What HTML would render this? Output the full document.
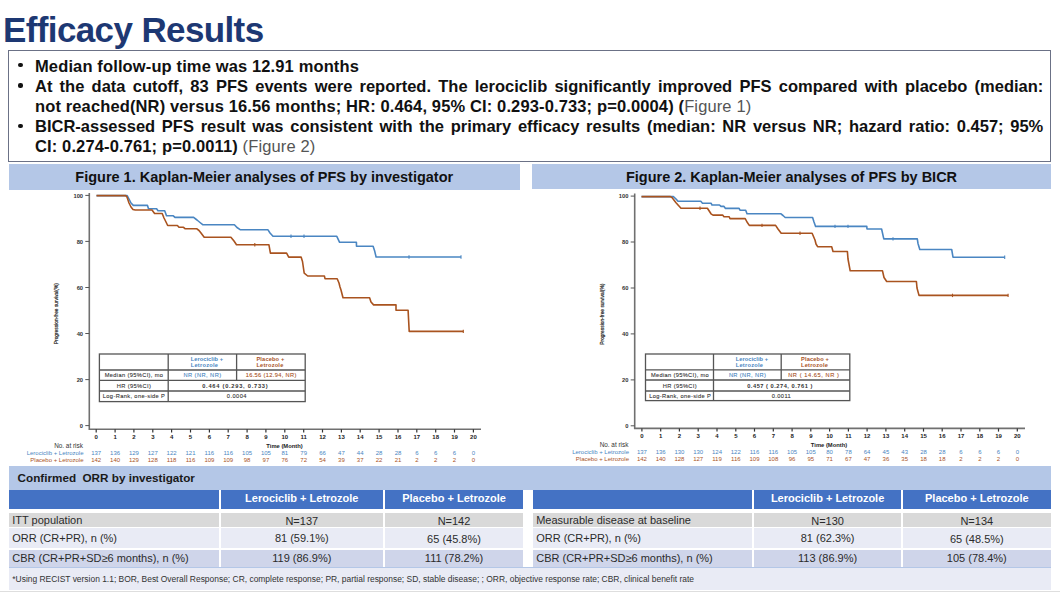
<!DOCTYPE html>
<html><head><meta charset="utf-8">
<style>
*{margin:0;padding:0;box-sizing:border-box}
html,body{width:1060px;height:592px;overflow:hidden;background:#fff;font-family:"Liberation Sans",sans-serif}
.a{position:absolute;white-space:nowrap}
#title{left:3px;top:10px;font-size:35px;font-weight:bold;color:#1d3873;line-height:40px;letter-spacing:-0.62px}
#box{left:7.9px;top:49.8px;width:1043.6px;height:111.9px;border:1.4px solid #6b7186}
.bl{font-size:16.5px;font-weight:bold;color:#111;line-height:20px;letter-spacing:0.13px}
.bul{width:4.2px;height:4.2px;border-radius:50%;background:#111}
.fig{color:#555;font-weight:normal}
.jl{width:1008.3px;text-align:justify;text-align-last:justify;white-space:normal;letter-spacing:0}
.fbar{background:#b4c7e7;height:26px;font-size:14.5px;font-weight:bold;color:#111;text-align:center;line-height:26px}
#bot{left:9px;top:466px;width:1042px;height:124px;background:#b4c7e7}
.cell{position:absolute;font-size:11.3px;color:#222;line-height:16px}
.hd{background:#4472c4;color:#fff;font-weight:bold;text-align:center;font-size:11.5px}
.g{background:#d9d9d9}
.l1{background:#e9ebf5}
.l2{background:#cfd5ea}
</style></head><body>
<div class="a" id="title">Efficacy Results</div>
<div class="a" id="box"></div>

<div class="a bul" style="left:18.4px;top:63px"></div>
<div class="a bl" style="left:35px;top:56px">Median follow-up time was 12.91 months</div>
<div class="a bul" style="left:18.4px;top:83.4px"></div>
<div class="a bl jl" style="left:35px;top:76px">At the data cutoff, 83 PFS events were reported. The lerociclib significantly improved PFS compared with placebo (median:</div>
<div class="a bl" style="left:35px;top:96px">not reached(NR) versus 16.56 months; HR: 0.464, 95% CI: 0.293-0.733; p=0.0004) (<span class="fig">Figure 1)</span></div>
<div class="a bul" style="left:18.4px;top:123.7px"></div>
<div class="a bl jl" style="left:35px;top:116px">BICR-assessed PFS result was consistent with the primary efficacy results (median: NR versus NR; hazard ratio: 0.457; 95%</div>
<div class="a bl" style="left:35px;top:136px">CI: 0.274-0.761; p=0.0011) <span class="fig">(Figure 2)</span></div>

<div class="a fbar" style="left:8.5px;top:164.3px;width:511.5px;height:25.9px;line-height:27.2px">Figure 1. Kaplan-Meier analyses of PFS by investigator</div>
<div class="a fbar" style="left:532px;top:163.7px;width:519px;height:25.1px;line-height:27.6px">Figure 2. Kaplan-Meier analyses of PFS by BICR</div>

<div class="a" style="left:9px;top:466.3px;width:1042.0px;height:123.4px;background:#b4c7e7"></div>
<div class="a" style="left:9px;top:489.7px;width:1042.0px;height:77.6px;background:#ffffff"></div>
<div class="a" style="left:9px;top:567.8px;width:1042.0px;height:21.9px;background:#e9ebf5"></div>
<div class="a" style="top:472.00px;font-size:11.7px;line-height:11.7px;color:#1a1a1a;font-weight:bold;left:17.6px;">Confirmed&nbsp; ORR by investigator</div>
<div class="a" style="left:9.4px;top:489.7px;width:209.6px;height:19.0px;background:#4472c4"></div>
<div class="a" style="left:220.8px;top:489.7px;width:162.0px;height:19.0px;background:#4472c4"></div>
<div class="a" style="left:384.7px;top:489.7px;width:138.5px;height:19.0px;background:#4472c4"></div>
<div class="a" style="left:9.4px;top:512.7px;width:209.6px;height:14.7px;background:#d9d9d9"></div>
<div class="a" style="left:220.8px;top:512.7px;width:162.0px;height:14.7px;background:#d9d9d9"></div>
<div class="a" style="left:384.7px;top:512.7px;width:138.5px;height:14.7px;background:#d9d9d9"></div>
<div class="a" style="left:9.4px;top:528.4px;width:209.6px;height:20.0px;background:#e9ebf5"></div>
<div class="a" style="left:220.8px;top:528.4px;width:162.0px;height:20.0px;background:#e9ebf5"></div>
<div class="a" style="left:384.7px;top:528.4px;width:138.5px;height:20.0px;background:#e9ebf5"></div>
<div class="a" style="left:9.4px;top:549.7px;width:209.6px;height:17.1px;background:#cfd5ea"></div>
<div class="a" style="left:220.8px;top:549.7px;width:162.0px;height:17.1px;background:#cfd5ea"></div>
<div class="a" style="left:384.7px;top:549.7px;width:138.5px;height:17.1px;background:#cfd5ea"></div>
<div class="a" style="left:533.4px;top:489.7px;width:219.0px;height:19.0px;background:#4472c4"></div>
<div class="a" style="left:754px;top:489.7px;width:147.2px;height:19.0px;background:#4472c4"></div>
<div class="a" style="left:902.8px;top:489.7px;width:148.0px;height:19.0px;background:#4472c4"></div>
<div class="a" style="left:533.4px;top:512.7px;width:219.0px;height:14.7px;background:#d9d9d9"></div>
<div class="a" style="left:754px;top:512.7px;width:147.2px;height:14.7px;background:#d9d9d9"></div>
<div class="a" style="left:902.8px;top:512.7px;width:148.0px;height:14.7px;background:#d9d9d9"></div>
<div class="a" style="left:533.4px;top:528.4px;width:219.0px;height:20.0px;background:#e9ebf5"></div>
<div class="a" style="left:754px;top:528.4px;width:147.2px;height:20.0px;background:#e9ebf5"></div>
<div class="a" style="left:902.8px;top:528.4px;width:148.0px;height:20.0px;background:#e9ebf5"></div>
<div class="a" style="left:533.4px;top:549.7px;width:219.0px;height:17.1px;background:#cfd5ea"></div>
<div class="a" style="left:754px;top:549.7px;width:147.2px;height:17.1px;background:#cfd5ea"></div>
<div class="a" style="left:902.8px;top:549.7px;width:148.0px;height:17.1px;background:#cfd5ea"></div>
<div class="a" style="top:493.19px;font-size:11px;line-height:11px;color:#fff;font-weight:bold;left:201.8px;width:200px;text-align:center;">Lerociclib + Letrozole</div>
<div class="a" style="top:493.19px;font-size:11px;line-height:11px;color:#fff;font-weight:bold;left:354.0px;width:200px;text-align:center;">Placebo + Letrozole</div>
<div class="a" style="top:515.29px;font-size:11px;line-height:11px;color:#2b2b2b;left:12.2px;">ITT population</div>
<div class="a" style="top:533.39px;font-size:11px;line-height:11px;color:#2b2b2b;left:12.2px;">ORR (CR+PR), n (%)</div>
<div class="a" style="top:553.19px;font-size:11px;line-height:11px;color:#2b2b2b;left:12.2px;">CBR (CR+PR+SD≥6 months), n (%)</div>
<div class="a" style="top:515.69px;font-size:11px;line-height:11px;color:#2b2b2b;left:201.8px;width:200px;text-align:center;">N=137</div>
<div class="a" style="top:515.69px;font-size:11px;line-height:11px;color:#2b2b2b;left:354.0px;width:200px;text-align:center;">N=142</div>
<div class="a" style="top:533.29px;font-size:11px;line-height:11px;color:#2b2b2b;left:201.8px;width:200px;text-align:center;">81 (59.1%)</div>
<div class="a" style="top:533.99px;font-size:11px;line-height:11px;color:#2b2b2b;left:354.0px;width:200px;text-align:center;">65 (45.8%)</div>
<div class="a" style="top:553.19px;font-size:11px;line-height:11px;color:#2b2b2b;left:201.8px;width:200px;text-align:center;">119 (86.9%)</div>
<div class="a" style="top:553.19px;font-size:11px;line-height:11px;color:#2b2b2b;left:354.0px;width:200px;text-align:center;">111 (78.2%)</div>
<div class="a" style="top:493.19px;font-size:11px;line-height:11px;color:#fff;font-weight:bold;left:727.6px;width:200px;text-align:center;">Lerociclib + Letrozole</div>
<div class="a" style="top:493.19px;font-size:11px;line-height:11px;color:#fff;font-weight:bold;left:876.8px;width:200px;text-align:center;">Placebo + Letrozole</div>
<div class="a" style="top:515.29px;font-size:11px;line-height:11px;color:#2b2b2b;left:536.2px;">Measurable disease at baseline</div>
<div class="a" style="top:533.39px;font-size:11px;line-height:11px;color:#2b2b2b;left:536.2px;">ORR (CR+PR), n (%)</div>
<div class="a" style="top:553.19px;font-size:11px;line-height:11px;color:#2b2b2b;left:536.2px;">CBR (CR+PR+SD≥6 months), n (%)</div>
<div class="a" style="top:515.69px;font-size:11px;line-height:11px;color:#2b2b2b;left:727.6px;width:200px;text-align:center;">N=130</div>
<div class="a" style="top:515.69px;font-size:11px;line-height:11px;color:#2b2b2b;left:876.8px;width:200px;text-align:center;">N=134</div>
<div class="a" style="top:533.29px;font-size:11px;line-height:11px;color:#2b2b2b;left:727.6px;width:200px;text-align:center;">81 (62.3%)</div>
<div class="a" style="top:533.99px;font-size:11px;line-height:11px;color:#2b2b2b;left:876.8px;width:200px;text-align:center;">65 (48.5%)</div>
<div class="a" style="top:553.19px;font-size:11px;line-height:11px;color:#2b2b2b;left:727.6px;width:200px;text-align:center;">113 (86.9%)</div>
<div class="a" style="top:553.19px;font-size:11px;line-height:11px;color:#2b2b2b;left:876.8px;width:200px;text-align:center;">105 (78.4%)</div>
<div class="a" style="top:574.85px;font-size:8.45px;line-height:8.45px;color:#333;left:12.3px;">*Using RECIST version 1.1; BOR, Best Overall Response; CR, complete response; PR, partial response; SD, stable disease; ; ORR, objective response rate; CBR, clinical benefit rate</div>

<div class="a" style="left:0;top:590.8px;width:1060px;height:1.2px;background:#dedede"></div>
<!-- CHARTS -->
<svg class="a" style="left:0;top:0" width="1060" height="592" viewBox="0 0 1060 592" id="charts">
<path d="M96.5,195.6 L127.2,195.6 L129.0,199.0 L131.0,203.0 L133.3,205.4 L147.5,205.4 L148.5,208.7 L156.6,208.7 L158.0,210.8 L164.7,210.8 L166.5,215.8 L173.3,215.8 L175.0,217.4 L193.6,217.4 L197.0,220.0 L200.0,222.5 L202.7,224.7 L234.4,224.7 L237.0,227.5 L240.5,229.8 L268.0,229.8 L270.0,233.0 L273.0,236.3 L336.8,236.3 L339.6,242.3 L356.4,242.3 L356.5,246.3 L373.1,246.3 L374.5,250.4 L376.1,257.0 L461.0,257.0" fill="none" stroke="#4a86c2" stroke-width="1.6" stroke-linejoin="round"/>
<path d="M96.5,195.6 L125.7,195.6 L127.0,197.0 L129.0,203.0 L131.0,207.0 L133.0,209.5 L135.3,210.0 L152.0,210.0 L154.6,213.5 L162.2,213.5 L164.0,218.0 L166.0,222.0 L167.7,225.5 L177.4,225.5 L179.0,227.3 L183.5,227.3 L185.0,228.7 L196.6,228.7 L199.0,230.5 L201.0,233.0 L204.2,237.2 L230.9,237.2 L234.0,241.0 L236.5,244.7 L268.9,244.7 L270.4,253.1 L286.6,253.1 L288.7,257.1 L301.1,257.1 L302.5,261.5 L304.2,273.2 L307.7,276.0 L324.4,276.0 L325.0,278.7 L337.2,278.7 L339.0,283.0 L340.0,287.0 L341.0,290.0 L343.0,297.8 L369.6,297.8 L371.0,302.0 L373.6,304.9 L396.0,304.9 L396.0,310.3 L408.1,310.3 L409.2,331.4 L463.3,331.4" fill="none" stroke="#a9531f" stroke-width="1.6" stroke-linejoin="round"/>
<path d="M291.0,234.6V238.0" stroke="#4a86c2" stroke-width="1.1"/>
<path d="M304.0,234.6V238.0" stroke="#4a86c2" stroke-width="1.1"/>
<path d="M409.0,255.3V258.7" stroke="#4a86c2" stroke-width="1.1"/>
<path d="M461.0,255.3V258.7" stroke="#4a86c2" stroke-width="1.1"/>
<path d="M254.8,243.0V246.4" stroke="#a9531f" stroke-width="1.1"/>
<path d="M463.3,329.7V333.1" stroke="#a9531f" stroke-width="1.1"/>
<path d="M89.3,192.9V429.3H481" fill="none" stroke="#707070" stroke-width="1.6"/>
<path d="M85.3,195.4H89.3" stroke="#555" stroke-width="1"/>
<text x="83.1" y="197.5" font-size="5.8" fill="#333" text-anchor="end" font-weight="bold" font-family="Liberation Sans" >100</text>
<path d="M85.3,241.4H89.3" stroke="#555" stroke-width="1"/>
<text x="83.1" y="243.5" font-size="5.8" fill="#333" text-anchor="end" font-weight="bold" font-family="Liberation Sans" >80</text>
<path d="M85.3,287.5H89.3" stroke="#555" stroke-width="1"/>
<text x="83.1" y="289.6" font-size="5.8" fill="#333" text-anchor="end" font-weight="bold" font-family="Liberation Sans" >60</text>
<path d="M85.3,333.5H89.3" stroke="#555" stroke-width="1"/>
<text x="83.1" y="335.6" font-size="5.8" fill="#333" text-anchor="end" font-weight="bold" font-family="Liberation Sans" >40</text>
<path d="M85.3,379.6H89.3" stroke="#555" stroke-width="1"/>
<text x="83.1" y="381.7" font-size="5.8" fill="#333" text-anchor="end" font-weight="bold" font-family="Liberation Sans" >20</text>
<path d="M85.3,425.6H89.3" stroke="#555" stroke-width="1"/>
<text x="83.1" y="427.7" font-size="5.8" fill="#333" text-anchor="end" font-weight="bold" font-family="Liberation Sans" >0</text>
<path d="M96.2,429.3V432.5" stroke="#333" stroke-width="1.2"/>
<text x="96.2" y="439.0" font-size="6" fill="#222" text-anchor="middle" font-weight="bold" font-family="Liberation Sans" >0</text>
<path d="M115.1,429.3V432.5" stroke="#333" stroke-width="1.2"/>
<text x="115.1" y="439.0" font-size="6" fill="#222" text-anchor="middle" font-weight="bold" font-family="Liberation Sans" >1</text>
<path d="M133.9,429.3V432.5" stroke="#333" stroke-width="1.2"/>
<text x="133.9" y="439.0" font-size="6" fill="#222" text-anchor="middle" font-weight="bold" font-family="Liberation Sans" >2</text>
<path d="M152.8,429.3V432.5" stroke="#333" stroke-width="1.2"/>
<text x="152.8" y="439.0" font-size="6" fill="#222" text-anchor="middle" font-weight="bold" font-family="Liberation Sans" >3</text>
<path d="M171.6,429.3V432.5" stroke="#333" stroke-width="1.2"/>
<text x="171.6" y="439.0" font-size="6" fill="#222" text-anchor="middle" font-weight="bold" font-family="Liberation Sans" >4</text>
<path d="M190.5,429.3V432.5" stroke="#333" stroke-width="1.2"/>
<text x="190.5" y="439.0" font-size="6" fill="#222" text-anchor="middle" font-weight="bold" font-family="Liberation Sans" >5</text>
<path d="M209.4,429.3V432.5" stroke="#333" stroke-width="1.2"/>
<text x="209.4" y="439.0" font-size="6" fill="#222" text-anchor="middle" font-weight="bold" font-family="Liberation Sans" >6</text>
<path d="M228.2,429.3V432.5" stroke="#333" stroke-width="1.2"/>
<text x="228.2" y="439.0" font-size="6" fill="#222" text-anchor="middle" font-weight="bold" font-family="Liberation Sans" >7</text>
<path d="M247.1,429.3V432.5" stroke="#333" stroke-width="1.2"/>
<text x="247.1" y="439.0" font-size="6" fill="#222" text-anchor="middle" font-weight="bold" font-family="Liberation Sans" >8</text>
<path d="M265.9,429.3V432.5" stroke="#333" stroke-width="1.2"/>
<text x="265.9" y="439.0" font-size="6" fill="#222" text-anchor="middle" font-weight="bold" font-family="Liberation Sans" >9</text>
<path d="M284.8,429.3V432.5" stroke="#333" stroke-width="1.2"/>
<text x="284.8" y="439.0" font-size="6" fill="#222" text-anchor="middle" font-weight="bold" font-family="Liberation Sans" >10</text>
<path d="M303.7,429.3V432.5" stroke="#333" stroke-width="1.2"/>
<text x="303.7" y="439.0" font-size="6" fill="#222" text-anchor="middle" font-weight="bold" font-family="Liberation Sans" >11</text>
<path d="M322.5,429.3V432.5" stroke="#333" stroke-width="1.2"/>
<text x="322.5" y="439.0" font-size="6" fill="#222" text-anchor="middle" font-weight="bold" font-family="Liberation Sans" >12</text>
<path d="M341.4,429.3V432.5" stroke="#333" stroke-width="1.2"/>
<text x="341.4" y="439.0" font-size="6" fill="#222" text-anchor="middle" font-weight="bold" font-family="Liberation Sans" >13</text>
<path d="M360.2,429.3V432.5" stroke="#333" stroke-width="1.2"/>
<text x="360.2" y="439.0" font-size="6" fill="#222" text-anchor="middle" font-weight="bold" font-family="Liberation Sans" >14</text>
<path d="M379.1,429.3V432.5" stroke="#333" stroke-width="1.2"/>
<text x="379.1" y="439.0" font-size="6" fill="#222" text-anchor="middle" font-weight="bold" font-family="Liberation Sans" >15</text>
<path d="M398.0,429.3V432.5" stroke="#333" stroke-width="1.2"/>
<text x="398.0" y="439.0" font-size="6" fill="#222" text-anchor="middle" font-weight="bold" font-family="Liberation Sans" >16</text>
<path d="M416.8,429.3V432.5" stroke="#333" stroke-width="1.2"/>
<text x="416.8" y="439.0" font-size="6" fill="#222" text-anchor="middle" font-weight="bold" font-family="Liberation Sans" >17</text>
<path d="M435.7,429.3V432.5" stroke="#333" stroke-width="1.2"/>
<text x="435.7" y="439.0" font-size="6" fill="#222" text-anchor="middle" font-weight="bold" font-family="Liberation Sans" >18</text>
<path d="M454.5,429.3V432.5" stroke="#333" stroke-width="1.2"/>
<text x="454.5" y="439.0" font-size="6" fill="#222" text-anchor="middle" font-weight="bold" font-family="Liberation Sans" >19</text>
<path d="M473.4,429.3V432.5" stroke="#333" stroke-width="1.2"/>
<text x="473.4" y="439.0" font-size="6" fill="#222" text-anchor="middle" font-weight="bold" font-family="Liberation Sans" >20</text>
<text x="284.5" y="447.5" font-size="5.8" fill="#222" text-anchor="middle" font-weight="bold" font-family="Liberation Sans" >Time (Month)</text>
<text transform="translate(58.3,313.7) rotate(-90)" font-size="5.4" fill="#222" stroke="#222" stroke-width="0.2" text-anchor="middle" textLength="61" lengthAdjust="spacingAndGlyphs" font-family="Liberation Sans">Progression-free survival(%)</text>
<text x="82.9" y="447.7" font-size="6.4" fill="#333" text-anchor="end" font-family="Liberation Sans" >No. at risk</text>
<text x="83.5" y="455.0" font-size="6" fill="#4a86c2" text-anchor="end" font-family="Liberation Sans" >Lerociclib + Letrozole</text>
<text x="83.5" y="462.4" font-size="6" fill="#a9531f" text-anchor="end" font-family="Liberation Sans" >Placebo + Letrozole</text>
<text x="96.2" y="455.0" font-size="6" fill="#4a86c2" text-anchor="middle" font-family="Liberation Sans" >137</text>
<text x="96.2" y="462.4" font-size="6" fill="#a9531f" text-anchor="middle" font-family="Liberation Sans" >142</text>
<text x="115.1" y="455.0" font-size="6" fill="#4a86c2" text-anchor="middle" font-family="Liberation Sans" >136</text>
<text x="115.1" y="462.4" font-size="6" fill="#a9531f" text-anchor="middle" font-family="Liberation Sans" >140</text>
<text x="133.9" y="455.0" font-size="6" fill="#4a86c2" text-anchor="middle" font-family="Liberation Sans" >129</text>
<text x="133.9" y="462.4" font-size="6" fill="#a9531f" text-anchor="middle" font-family="Liberation Sans" >129</text>
<text x="152.8" y="455.0" font-size="6" fill="#4a86c2" text-anchor="middle" font-family="Liberation Sans" >127</text>
<text x="152.8" y="462.4" font-size="6" fill="#a9531f" text-anchor="middle" font-family="Liberation Sans" >128</text>
<text x="171.6" y="455.0" font-size="6" fill="#4a86c2" text-anchor="middle" font-family="Liberation Sans" >122</text>
<text x="171.6" y="462.4" font-size="6" fill="#a9531f" text-anchor="middle" font-family="Liberation Sans" >118</text>
<text x="190.5" y="455.0" font-size="6" fill="#4a86c2" text-anchor="middle" font-family="Liberation Sans" >121</text>
<text x="190.5" y="462.4" font-size="6" fill="#a9531f" text-anchor="middle" font-family="Liberation Sans" >116</text>
<text x="209.4" y="455.0" font-size="6" fill="#4a86c2" text-anchor="middle" font-family="Liberation Sans" >116</text>
<text x="209.4" y="462.4" font-size="6" fill="#a9531f" text-anchor="middle" font-family="Liberation Sans" >109</text>
<text x="228.2" y="455.0" font-size="6" fill="#4a86c2" text-anchor="middle" font-family="Liberation Sans" >116</text>
<text x="228.2" y="462.4" font-size="6" fill="#a9531f" text-anchor="middle" font-family="Liberation Sans" >109</text>
<text x="247.1" y="455.0" font-size="6" fill="#4a86c2" text-anchor="middle" font-family="Liberation Sans" >105</text>
<text x="247.1" y="462.4" font-size="6" fill="#a9531f" text-anchor="middle" font-family="Liberation Sans" >98</text>
<text x="265.9" y="455.0" font-size="6" fill="#4a86c2" text-anchor="middle" font-family="Liberation Sans" >105</text>
<text x="265.9" y="462.4" font-size="6" fill="#a9531f" text-anchor="middle" font-family="Liberation Sans" >97</text>
<text x="284.8" y="455.0" font-size="6" fill="#4a86c2" text-anchor="middle" font-family="Liberation Sans" >81</text>
<text x="284.8" y="462.4" font-size="6" fill="#a9531f" text-anchor="middle" font-family="Liberation Sans" >76</text>
<text x="303.7" y="455.0" font-size="6" fill="#4a86c2" text-anchor="middle" font-family="Liberation Sans" >79</text>
<text x="303.7" y="462.4" font-size="6" fill="#a9531f" text-anchor="middle" font-family="Liberation Sans" >72</text>
<text x="322.5" y="455.0" font-size="6" fill="#4a86c2" text-anchor="middle" font-family="Liberation Sans" >66</text>
<text x="322.5" y="462.4" font-size="6" fill="#a9531f" text-anchor="middle" font-family="Liberation Sans" >54</text>
<text x="341.4" y="455.0" font-size="6" fill="#4a86c2" text-anchor="middle" font-family="Liberation Sans" >47</text>
<text x="341.4" y="462.4" font-size="6" fill="#a9531f" text-anchor="middle" font-family="Liberation Sans" >39</text>
<text x="360.2" y="455.0" font-size="6" fill="#4a86c2" text-anchor="middle" font-family="Liberation Sans" >44</text>
<text x="360.2" y="462.4" font-size="6" fill="#a9531f" text-anchor="middle" font-family="Liberation Sans" >37</text>
<text x="379.1" y="455.0" font-size="6" fill="#4a86c2" text-anchor="middle" font-family="Liberation Sans" >28</text>
<text x="379.1" y="462.4" font-size="6" fill="#a9531f" text-anchor="middle" font-family="Liberation Sans" >22</text>
<text x="398.0" y="455.0" font-size="6" fill="#4a86c2" text-anchor="middle" font-family="Liberation Sans" >28</text>
<text x="398.0" y="462.4" font-size="6" fill="#a9531f" text-anchor="middle" font-family="Liberation Sans" >21</text>
<text x="416.8" y="455.0" font-size="6" fill="#4a86c2" text-anchor="middle" font-family="Liberation Sans" >6</text>
<text x="416.8" y="462.4" font-size="6" fill="#a9531f" text-anchor="middle" font-family="Liberation Sans" >2</text>
<text x="435.7" y="455.0" font-size="6" fill="#4a86c2" text-anchor="middle" font-family="Liberation Sans" >6</text>
<text x="435.7" y="462.4" font-size="6" fill="#a9531f" text-anchor="middle" font-family="Liberation Sans" >2</text>
<text x="454.5" y="455.0" font-size="6" fill="#4a86c2" text-anchor="middle" font-family="Liberation Sans" >6</text>
<text x="454.5" y="462.4" font-size="6" fill="#a9531f" text-anchor="middle" font-family="Liberation Sans" >2</text>
<text x="473.4" y="455.0" font-size="6" fill="#4a86c2" text-anchor="middle" font-family="Liberation Sans" >0</text>
<text x="473.4" y="462.4" font-size="6" fill="#a9531f" text-anchor="middle" font-family="Liberation Sans" >0</text>
<rect x="99.4" y="354" width="205.79999999999998" height="47.60000000000002" fill="#fff" stroke="#555" stroke-width="1.3"/>
<path d="M99.4,370H305.2M99.4,380.3H305.2M99.4,391H305.2M168.2,354V401.6M236.6,354V380.3" stroke="#555" stroke-width="1.3" fill="none"/>
<text x="190.7" y="360.6" font-size="5.7" fill="#4a86c2" stroke="#4a86c2" stroke-width="0" font-weight="bold" textLength="32.4" lengthAdjust="spacing" font-family="Liberation Sans">Lerociclib +</text>
<text x="190.7" y="367.3" font-size="5.7" fill="#4a86c2" stroke="#4a86c2" stroke-width="0" font-weight="bold" textLength="27.3" lengthAdjust="spacing" font-family="Liberation Sans">Letrozole</text>
<text x="256.4" y="360.6" font-size="5.7" fill="#a9531f" stroke="#a9531f" stroke-width="0" font-weight="bold" textLength="27.9" lengthAdjust="spacing" font-family="Liberation Sans">Placebo +</text>
<text x="256.4" y="367.3" font-size="5.7" fill="#a9531f" stroke="#a9531f" stroke-width="0" font-weight="bold" textLength="26.9" lengthAdjust="spacing" font-family="Liberation Sans">Letrozole</text>
<text x="104.7" y="377.4" font-size="5.7" fill="#333" stroke="#333" stroke-width="0.1" font-weight="normal" textLength="58.3" lengthAdjust="spacing" font-family="Liberation Sans">Median (95%CI), mo</text>
<text x="183.5" y="377.4" font-size="5.7" fill="#4a86c2" stroke="#4a86c2" stroke-width="0.1" font-weight="normal" textLength="37.6" lengthAdjust="spacing" font-family="Liberation Sans">NR (NR, NR)</text>
<text x="245.7" y="377.4" font-size="5.7" fill="#a9531f" stroke="#a9531f" stroke-width="0.1" font-weight="normal" textLength="50.6" lengthAdjust="spacing" font-family="Liberation Sans">16.56 (12.94, NR)</text>
<text x="116.8" y="387.5" font-size="5.7" fill="#333" stroke="#333" stroke-width="0.1" font-weight="normal" textLength="34.1" lengthAdjust="spacing" font-family="Liberation Sans">HR (95%CI)</text>
<text x="202.2" y="387.5" font-size="5.7" fill="#333" stroke="#333" stroke-width="0" font-weight="bold" textLength="65.4" lengthAdjust="spacing" font-family="Liberation Sans">0.464 (0.293, 0.733)</text>
<text x="102.8" y="398.0" font-size="5.7" fill="#333" stroke="#333" stroke-width="0.1" font-weight="normal" textLength="62.1" lengthAdjust="spacing" font-family="Liberation Sans">Log-Rank, one-side P</text>
<text x="226.8" y="398.0" font-size="5.7" fill="#333" stroke="#333" stroke-width="0.1" font-weight="normal" textLength="19.6" lengthAdjust="spacing" font-family="Liberation Sans">0.0004</text>
<path d="M641.5,196.6 L673.4,196.6 L676.0,199.0 L678.0,201.3 L700.8,201.3 L702.5,203.2 L711.0,203.2 L712.0,205.0 L719.5,205.0 L721.0,206.4 L724.0,206.4 L725.5,208.4 L739.1,208.4 L740.0,210.2 L745.7,210.2 L747.0,213.7 L780.7,213.7 L783.0,215.5 L785.2,217.5 L812.6,217.5 L814.0,222.0 L815.6,226.4 L866.8,226.4 L867.0,229.0 L881.6,229.0 L883.8,238.9 L917.3,238.9 L918.0,243.4 L919.8,249.5 L951.7,249.5 L953.0,257.2 L1004.7,257.2" fill="none" stroke="#4a86c2" stroke-width="1.6" stroke-linejoin="round"/>
<path d="M641.5,196.6 L670.4,196.6 L672.0,197.6 L676.0,202.7 L681.0,208.2 L707.4,208.2 L711.0,213.8 L713.0,215.1 L722.6,215.1 L724.0,216.8 L729.2,216.8 L730.0,218.6 L745.2,218.6 L747.0,222.0 L749.3,225.4 L775.6,225.4 L778.0,229.0 L781.2,233.3 L812.1,233.3 L815.0,240.0 L816.0,244.0 L817.6,246.7 L831.7,246.7 L833.0,251.5 L847.4,251.5 L848.0,259.0 L850.2,270.8 L882.5,270.8 L884.0,277.5 L886.7,281.5 L916.4,281.5 L917.0,288.0 L919.0,295.4 L1008.1,295.4" fill="none" stroke="#a9531f" stroke-width="1.6" stroke-linejoin="round"/>
<path d="M835.0,224.7V228.1" stroke="#4a86c2" stroke-width="1.1"/>
<path d="M848.0,224.7V228.1" stroke="#4a86c2" stroke-width="1.1"/>
<path d="M893.0,237.2V240.6" stroke="#4a86c2" stroke-width="1.1"/>
<path d="M1004.7,255.5V258.9" stroke="#4a86c2" stroke-width="1.1"/>
<path d="M700.0,206.5V209.9" stroke="#a9531f" stroke-width="1.1"/>
<path d="M762.0,223.7V227.1" stroke="#a9531f" stroke-width="1.1"/>
<path d="M800.0,231.6V235.0" stroke="#a9531f" stroke-width="1.1"/>
<path d="M952.5,293.7V297.1" stroke="#a9531f" stroke-width="1.1"/>
<path d="M1008.1,293.7V297.1" stroke="#a9531f" stroke-width="1.1"/>
<path d="M634.7,193.6V428.4H1025" fill="none" stroke="#707070" stroke-width="1.6"/>
<path d="M630.7,196.1H634.7" stroke="#555" stroke-width="1"/>
<text x="628.5" y="198.2" font-size="5.8" fill="#333" text-anchor="end" font-weight="bold" font-family="Liberation Sans" >100</text>
<path d="M630.7,242.0H634.7" stroke="#555" stroke-width="1"/>
<text x="628.5" y="244.1" font-size="5.8" fill="#333" text-anchor="end" font-weight="bold" font-family="Liberation Sans" >80</text>
<path d="M630.7,288.0H634.7" stroke="#555" stroke-width="1"/>
<text x="628.5" y="290.1" font-size="5.8" fill="#333" text-anchor="end" font-weight="bold" font-family="Liberation Sans" >60</text>
<path d="M630.7,333.9H634.7" stroke="#555" stroke-width="1"/>
<text x="628.5" y="336.0" font-size="5.8" fill="#333" text-anchor="end" font-weight="bold" font-family="Liberation Sans" >40</text>
<path d="M630.7,379.9H634.7" stroke="#555" stroke-width="1"/>
<text x="628.5" y="382.0" font-size="5.8" fill="#333" text-anchor="end" font-weight="bold" font-family="Liberation Sans" >20</text>
<path d="M630.7,425.8H634.7" stroke="#555" stroke-width="1"/>
<text x="628.5" y="427.9" font-size="5.8" fill="#333" text-anchor="end" font-weight="bold" font-family="Liberation Sans" >0</text>
<path d="M641.9,428.4V431.59999999999997" stroke="#333" stroke-width="1.2"/>
<text x="641.9" y="438.1" font-size="6" fill="#222" text-anchor="middle" font-weight="bold" font-family="Liberation Sans" >0</text>
<path d="M660.7,428.4V431.59999999999997" stroke="#333" stroke-width="1.2"/>
<text x="660.7" y="438.1" font-size="6" fill="#222" text-anchor="middle" font-weight="bold" font-family="Liberation Sans" >1</text>
<path d="M679.4,428.4V431.59999999999997" stroke="#333" stroke-width="1.2"/>
<text x="679.4" y="438.1" font-size="6" fill="#222" text-anchor="middle" font-weight="bold" font-family="Liberation Sans" >2</text>
<path d="M698.2,428.4V431.59999999999997" stroke="#333" stroke-width="1.2"/>
<text x="698.2" y="438.1" font-size="6" fill="#222" text-anchor="middle" font-weight="bold" font-family="Liberation Sans" >3</text>
<path d="M717.0,428.4V431.59999999999997" stroke="#333" stroke-width="1.2"/>
<text x="717.0" y="438.1" font-size="6" fill="#222" text-anchor="middle" font-weight="bold" font-family="Liberation Sans" >4</text>
<path d="M735.8,428.4V431.59999999999997" stroke="#333" stroke-width="1.2"/>
<text x="735.8" y="438.1" font-size="6" fill="#222" text-anchor="middle" font-weight="bold" font-family="Liberation Sans" >5</text>
<path d="M754.5,428.4V431.59999999999997" stroke="#333" stroke-width="1.2"/>
<text x="754.5" y="438.1" font-size="6" fill="#222" text-anchor="middle" font-weight="bold" font-family="Liberation Sans" >6</text>
<path d="M773.3,428.4V431.59999999999997" stroke="#333" stroke-width="1.2"/>
<text x="773.3" y="438.1" font-size="6" fill="#222" text-anchor="middle" font-weight="bold" font-family="Liberation Sans" >7</text>
<path d="M792.1,428.4V431.59999999999997" stroke="#333" stroke-width="1.2"/>
<text x="792.1" y="438.1" font-size="6" fill="#222" text-anchor="middle" font-weight="bold" font-family="Liberation Sans" >8</text>
<path d="M810.8,428.4V431.59999999999997" stroke="#333" stroke-width="1.2"/>
<text x="810.8" y="438.1" font-size="6" fill="#222" text-anchor="middle" font-weight="bold" font-family="Liberation Sans" >9</text>
<path d="M829.6,428.4V431.59999999999997" stroke="#333" stroke-width="1.2"/>
<text x="829.6" y="438.1" font-size="6" fill="#222" text-anchor="middle" font-weight="bold" font-family="Liberation Sans" >10</text>
<path d="M848.4,428.4V431.59999999999997" stroke="#333" stroke-width="1.2"/>
<text x="848.4" y="438.1" font-size="6" fill="#222" text-anchor="middle" font-weight="bold" font-family="Liberation Sans" >11</text>
<path d="M867.1,428.4V431.59999999999997" stroke="#333" stroke-width="1.2"/>
<text x="867.1" y="438.1" font-size="6" fill="#222" text-anchor="middle" font-weight="bold" font-family="Liberation Sans" >12</text>
<path d="M885.9,428.4V431.59999999999997" stroke="#333" stroke-width="1.2"/>
<text x="885.9" y="438.1" font-size="6" fill="#222" text-anchor="middle" font-weight="bold" font-family="Liberation Sans" >13</text>
<path d="M904.7,428.4V431.59999999999997" stroke="#333" stroke-width="1.2"/>
<text x="904.7" y="438.1" font-size="6" fill="#222" text-anchor="middle" font-weight="bold" font-family="Liberation Sans" >14</text>
<path d="M923.5,428.4V431.59999999999997" stroke="#333" stroke-width="1.2"/>
<text x="923.5" y="438.1" font-size="6" fill="#222" text-anchor="middle" font-weight="bold" font-family="Liberation Sans" >15</text>
<path d="M942.2,428.4V431.59999999999997" stroke="#333" stroke-width="1.2"/>
<text x="942.2" y="438.1" font-size="6" fill="#222" text-anchor="middle" font-weight="bold" font-family="Liberation Sans" >16</text>
<path d="M961.0,428.4V431.59999999999997" stroke="#333" stroke-width="1.2"/>
<text x="961.0" y="438.1" font-size="6" fill="#222" text-anchor="middle" font-weight="bold" font-family="Liberation Sans" >17</text>
<path d="M979.8,428.4V431.59999999999997" stroke="#333" stroke-width="1.2"/>
<text x="979.8" y="438.1" font-size="6" fill="#222" text-anchor="middle" font-weight="bold" font-family="Liberation Sans" >18</text>
<path d="M998.5,428.4V431.59999999999997" stroke="#333" stroke-width="1.2"/>
<text x="998.5" y="438.1" font-size="6" fill="#222" text-anchor="middle" font-weight="bold" font-family="Liberation Sans" >19</text>
<path d="M1017.3,428.4V431.59999999999997" stroke="#333" stroke-width="1.2"/>
<text x="1017.3" y="438.1" font-size="6" fill="#222" text-anchor="middle" font-weight="bold" font-family="Liberation Sans" >20</text>
<text x="829.0" y="446.6" font-size="5.8" fill="#222" text-anchor="middle" font-weight="bold" font-family="Liberation Sans" >Time (Month)</text>
<text transform="translate(604.3,314.2) rotate(-90)" font-size="5.4" fill="#222" stroke="#222" stroke-width="0.2" text-anchor="middle" textLength="61" lengthAdjust="spacingAndGlyphs" font-family="Liberation Sans">Progression-free survival(%)</text>
<text x="628.4" y="446.5" font-size="6.4" fill="#333" text-anchor="end" font-family="Liberation Sans" >No. at risk</text>
<text x="629.0" y="453.8" font-size="6" fill="#4a86c2" text-anchor="end" font-family="Liberation Sans" >Lerociclib + Letrozole</text>
<text x="629.0" y="461.2" font-size="6" fill="#a9531f" text-anchor="end" font-family="Liberation Sans" >Placebo + Letrozole</text>
<text x="641.9" y="453.8" font-size="6" fill="#4a86c2" text-anchor="middle" font-family="Liberation Sans" >137</text>
<text x="641.9" y="461.2" font-size="6" fill="#a9531f" text-anchor="middle" font-family="Liberation Sans" >142</text>
<text x="660.7" y="453.8" font-size="6" fill="#4a86c2" text-anchor="middle" font-family="Liberation Sans" >136</text>
<text x="660.7" y="461.2" font-size="6" fill="#a9531f" text-anchor="middle" font-family="Liberation Sans" >140</text>
<text x="679.4" y="453.8" font-size="6" fill="#4a86c2" text-anchor="middle" font-family="Liberation Sans" >130</text>
<text x="679.4" y="461.2" font-size="6" fill="#a9531f" text-anchor="middle" font-family="Liberation Sans" >128</text>
<text x="698.2" y="453.8" font-size="6" fill="#4a86c2" text-anchor="middle" font-family="Liberation Sans" >130</text>
<text x="698.2" y="461.2" font-size="6" fill="#a9531f" text-anchor="middle" font-family="Liberation Sans" >127</text>
<text x="717.0" y="453.8" font-size="6" fill="#4a86c2" text-anchor="middle" font-family="Liberation Sans" >124</text>
<text x="717.0" y="461.2" font-size="6" fill="#a9531f" text-anchor="middle" font-family="Liberation Sans" >119</text>
<text x="735.8" y="453.8" font-size="6" fill="#4a86c2" text-anchor="middle" font-family="Liberation Sans" >122</text>
<text x="735.8" y="461.2" font-size="6" fill="#a9531f" text-anchor="middle" font-family="Liberation Sans" >116</text>
<text x="754.5" y="453.8" font-size="6" fill="#4a86c2" text-anchor="middle" font-family="Liberation Sans" >116</text>
<text x="754.5" y="461.2" font-size="6" fill="#a9531f" text-anchor="middle" font-family="Liberation Sans" >109</text>
<text x="773.3" y="453.8" font-size="6" fill="#4a86c2" text-anchor="middle" font-family="Liberation Sans" >116</text>
<text x="773.3" y="461.2" font-size="6" fill="#a9531f" text-anchor="middle" font-family="Liberation Sans" >108</text>
<text x="792.1" y="453.8" font-size="6" fill="#4a86c2" text-anchor="middle" font-family="Liberation Sans" >105</text>
<text x="792.1" y="461.2" font-size="6" fill="#a9531f" text-anchor="middle" font-family="Liberation Sans" >96</text>
<text x="810.8" y="453.8" font-size="6" fill="#4a86c2" text-anchor="middle" font-family="Liberation Sans" >105</text>
<text x="810.8" y="461.2" font-size="6" fill="#a9531f" text-anchor="middle" font-family="Liberation Sans" >95</text>
<text x="829.6" y="453.8" font-size="6" fill="#4a86c2" text-anchor="middle" font-family="Liberation Sans" >80</text>
<text x="829.6" y="461.2" font-size="6" fill="#a9531f" text-anchor="middle" font-family="Liberation Sans" >71</text>
<text x="848.4" y="453.8" font-size="6" fill="#4a86c2" text-anchor="middle" font-family="Liberation Sans" >78</text>
<text x="848.4" y="461.2" font-size="6" fill="#a9531f" text-anchor="middle" font-family="Liberation Sans" >67</text>
<text x="867.1" y="453.8" font-size="6" fill="#4a86c2" text-anchor="middle" font-family="Liberation Sans" >64</text>
<text x="867.1" y="461.2" font-size="6" fill="#a9531f" text-anchor="middle" font-family="Liberation Sans" >47</text>
<text x="885.9" y="453.8" font-size="6" fill="#4a86c2" text-anchor="middle" font-family="Liberation Sans" >45</text>
<text x="885.9" y="461.2" font-size="6" fill="#a9531f" text-anchor="middle" font-family="Liberation Sans" >36</text>
<text x="904.7" y="453.8" font-size="6" fill="#4a86c2" text-anchor="middle" font-family="Liberation Sans" >43</text>
<text x="904.7" y="461.2" font-size="6" fill="#a9531f" text-anchor="middle" font-family="Liberation Sans" >35</text>
<text x="923.5" y="453.8" font-size="6" fill="#4a86c2" text-anchor="middle" font-family="Liberation Sans" >28</text>
<text x="923.5" y="461.2" font-size="6" fill="#a9531f" text-anchor="middle" font-family="Liberation Sans" >18</text>
<text x="942.2" y="453.8" font-size="6" fill="#4a86c2" text-anchor="middle" font-family="Liberation Sans" >28</text>
<text x="942.2" y="461.2" font-size="6" fill="#a9531f" text-anchor="middle" font-family="Liberation Sans" >18</text>
<text x="961.0" y="453.8" font-size="6" fill="#4a86c2" text-anchor="middle" font-family="Liberation Sans" >6</text>
<text x="961.0" y="461.2" font-size="6" fill="#a9531f" text-anchor="middle" font-family="Liberation Sans" >2</text>
<text x="979.8" y="453.8" font-size="6" fill="#4a86c2" text-anchor="middle" font-family="Liberation Sans" >6</text>
<text x="979.8" y="461.2" font-size="6" fill="#a9531f" text-anchor="middle" font-family="Liberation Sans" >2</text>
<text x="998.5" y="453.8" font-size="6" fill="#4a86c2" text-anchor="middle" font-family="Liberation Sans" >6</text>
<text x="998.5" y="461.2" font-size="6" fill="#a9531f" text-anchor="middle" font-family="Liberation Sans" >2</text>
<text x="1017.3" y="453.8" font-size="6" fill="#4a86c2" text-anchor="middle" font-family="Liberation Sans" >0</text>
<text x="1017.3" y="461.2" font-size="6" fill="#a9531f" text-anchor="middle" font-family="Liberation Sans" >0</text>
<rect x="645.5" y="354" width="204.29999999999995" height="46.60000000000002" fill="#fff" stroke="#555" stroke-width="1.3"/>
<path d="M645.5,369.8H849.8M645.5,380H849.8M645.5,391H849.8M713.5,354V400.6M781.2,354V380" stroke="#555" stroke-width="1.3" fill="none"/>
<text x="735.7" y="360.6" font-size="5.7" fill="#4a86c2" stroke="#4a86c2" stroke-width="0" font-weight="bold" textLength="32.4" lengthAdjust="spacing" font-family="Liberation Sans">Lerociclib +</text>
<text x="735.7" y="367.3" font-size="5.7" fill="#4a86c2" stroke="#4a86c2" stroke-width="0" font-weight="bold" textLength="27.3" lengthAdjust="spacing" font-family="Liberation Sans">Letrozole</text>
<text x="801.0" y="360.6" font-size="5.7" fill="#a9531f" stroke="#a9531f" stroke-width="0" font-weight="bold" textLength="27.9" lengthAdjust="spacing" font-family="Liberation Sans">Placebo +</text>
<text x="801.0" y="367.3" font-size="5.7" fill="#a9531f" stroke="#a9531f" stroke-width="0" font-weight="bold" textLength="26.9" lengthAdjust="spacing" font-family="Liberation Sans">Letrozole</text>
<text x="651.0" y="377.4" font-size="5.7" fill="#333" stroke="#333" stroke-width="0.1" font-weight="normal" textLength="57.7" lengthAdjust="spacing" font-family="Liberation Sans">Median (95%CI), mo</text>
<text x="728.9" y="377.4" font-size="5.7" fill="#4a86c2" stroke="#4a86c2" stroke-width="0.1" font-weight="normal" textLength="36.9" lengthAdjust="spacing" font-family="Liberation Sans">NR (NR, NR)</text>
<text x="788.2" y="377.4" font-size="5.7" fill="#a9531f" stroke="#a9531f" stroke-width="0.1" font-weight="normal" textLength="50.7" lengthAdjust="spacing" font-family="Liberation Sans">NR ( 14.65, NR )</text>
<text x="662.8" y="387.5" font-size="5.7" fill="#333" stroke="#333" stroke-width="0.1" font-weight="normal" textLength="33.8" lengthAdjust="spacing" font-family="Liberation Sans">HR (95%CI)</text>
<text x="747.2" y="387.5" font-size="5.7" fill="#333" stroke="#333" stroke-width="0" font-weight="bold" textLength="65.1" lengthAdjust="spacing" font-family="Liberation Sans">0.457 ( 0.274, 0.761 )</text>
<text x="649.2" y="398.0" font-size="5.7" fill="#333" stroke="#333" stroke-width="0.1" font-weight="normal" textLength="61.5" lengthAdjust="spacing" font-family="Liberation Sans">Log-Rank, one-side P</text>
<text x="771.8" y="398.0" font-size="5.7" fill="#333" stroke="#333" stroke-width="0.1" font-weight="normal" textLength="18.9" lengthAdjust="spacing" font-family="Liberation Sans">0.0011</text>
</svg>
</body></html>
